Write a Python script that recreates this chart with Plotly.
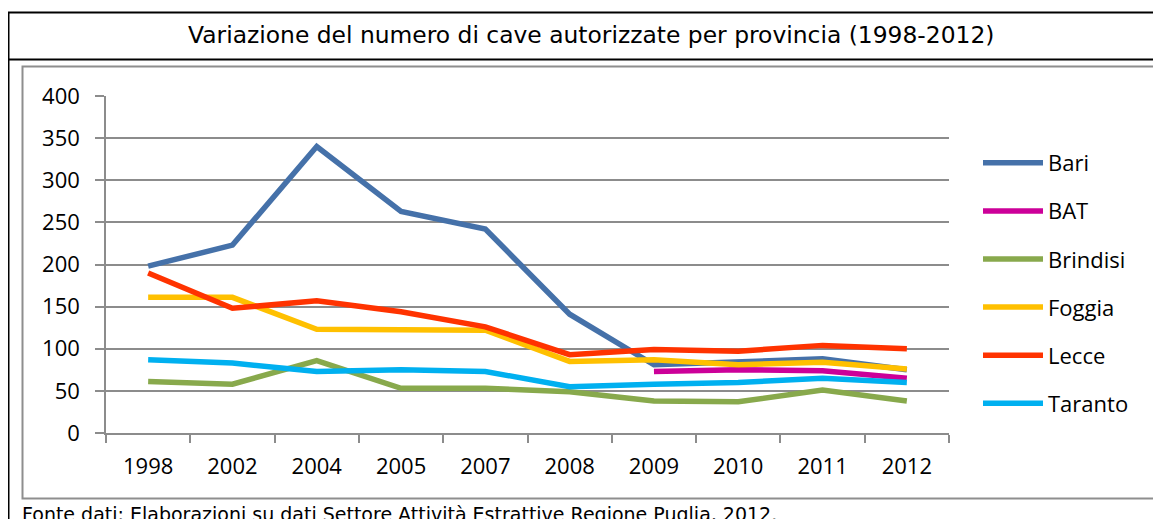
import plotly.graph_objects as go

years = ["1998", "2002", "2004", "2005", "2007", "2008", "2009", "2010", "2011", "2012"]
bari = [198, 223, 340, 263, 242, 141, 81, 85, 88, 75]
bat = [None, None, None, None, None, None, 73, 75, 74, 65]
brindisi = [61, 58, 86, 53, 53, 49, 38, 37, 51, 38]
foggia = [161, 161, 123, 123, 122, 85, 87, 81, 84, 76]
lecce = [190, 148, 157, 144, 126, 93, 99, 97, 104, 100]
taranto = [87, 83, 73, 75, 73, 55, 58, 60, 65, 60]

series = [
    ("Bari", bari, "#4571A9"),
    ("BAT", bat, "#CC0099"),
    ("Brindisi", brindisi, "#88A94C"),
    ("Foggia", foggia, "#FFC000"),
    ("Lecce", lecce, "#FF3300"),
    ("Taranto", taranto, "#00B0F0"),
]

# the page body has an 8px margin: work in page pixels and shift
OFF = 8
W, H = 1161 - OFF, 519 - OFF
L, R, T, B = 106 - OFF, 949 - OFF, 96 - OFF, 433 - OFF


def px(x):
    return (x - OFF - L) / (R - L)


def py(y):
    return (B - (y - OFF)) / (B - T)


fig = go.Figure()
for name, vals, col in series:
    fig.add_trace(go.Scatter(
        x=years, y=vals, name=name, mode="lines",
        line=dict(color=col, width=5.5), legendgroup=name,
        connectgaps=False,
    ))

grid = "#8C8C8C"
fig.update_layout(
    width=W, height=H,
    margin=dict(l=L, r=W - R, t=T, b=H - B, autoexpand=False),
    paper_bgcolor="white", plot_bgcolor="white",
    showlegend=True,
    legend=dict(
        x=px(978), xanchor="left", y=py(142), yanchor="top",
        font=dict(family="Open Sans", size=22, color="black"),
        tracegroupgap=16.5, bgcolor="rgba(0,0,0,0)", itemwidth=60,
    ),
    xaxis=dict(
        type="category", range=[-0.5, 9.5], tickson="boundaries",
        ticks="outside", ticklen=8, tickcolor=grid, tickwidth=1.5,
        showline=True, linecolor=grid, linewidth=1.5, showgrid=False,
        tickfont=dict(family="Open Sans", size=22, color="black"),
        ticklabelstandoff=13, zeroline=False, fixedrange=True,
    ),
    yaxis=dict(
        range=[0, 400], dtick=50, ticks="outside", ticklen=9,
        tickcolor=grid, tickwidth=1.5, showline=True, linecolor=grid,
        linewidth=1.5, showgrid=True, gridcolor=grid, gridwidth=1.5,
        tickfont=dict(family="Open Sans", size=22, color="black"),
        ticklabelstandoff=11, zeroline=False, fixedrange=True,
    ),
    shapes=[
        dict(type="rect", xref="paper", yref="paper", x0=px(8.5), x1=px(1175),
             y0=py(12.5), y1=py(540), line=dict(color="black", width=2)),
        dict(type="line", xref="paper", yref="paper", x0=px(8.5), x1=px(1175),
             y0=py(59.5), y1=py(59.5), line=dict(color="black", width=2)),
        dict(type="rect", xref="paper", yref="paper", x0=px(22.5), x1=px(1159),
             y0=py(66.5), y1=py(498.5), line=dict(color="#8E8E8E", width=2)),
    ],
    annotations=[
        dict(text="Variazione del numero di cave autorizzate per provincia (1998-2012)",
             xref="paper", yref="paper", x=px(591), y=py(35.5), xanchor="center",
             yanchor="middle", showarrow=False,
             font=dict(family="DejaVu Sans", size=23.4, color="black")),
        dict(text="Fonte dati: Elaborazioni su dati Settore Attività Estrattive Regione Puglia, 2012.",
             xref="paper", yref="paper", x=px(20), y=py(514), xanchor="left",
             yanchor="middle", showarrow=False,
             font=dict(family="DejaVu Sans", size=19, color="black")),
    ],
)

fig.write_html("out.html")
